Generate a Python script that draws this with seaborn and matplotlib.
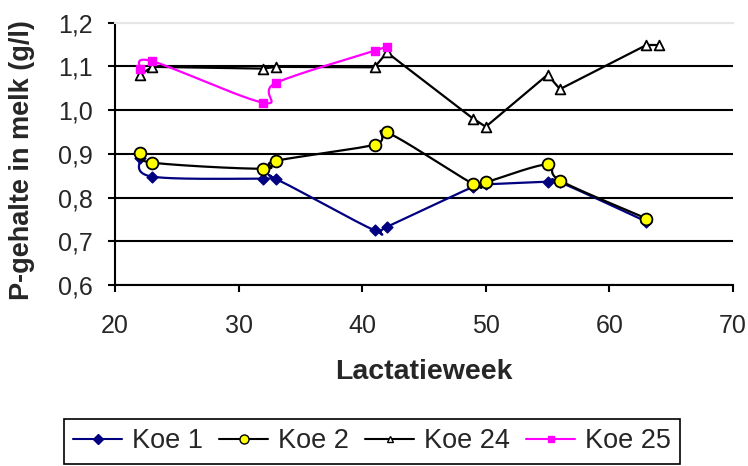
import numpy as np
import pandas as pd
import matplotlib
matplotlib.use("Agg")
import matplotlib.pyplot as plt
from matplotlib.lines import Line2D
import seaborn as sns

# Lactation week and P content in milk (g/l) per cow
weeks_koe1 = [22, 23, 32, 33, 41, 42, 49, 50, 55, 56, 63]
p_koe1 = [0.890, 0.848, 0.843, 0.843, 0.725, 0.733, 0.825, 0.830, 0.836, 0.835, 0.745]

weeks_koe2 = [22, 23, 32, 33, 41, 42, 49, 50, 55, 56, 63]
p_koe2 = [0.903, 0.880, 0.866, 0.884, 0.921, 0.949, 0.831, 0.835, 0.876, 0.839, 0.752]

weeks_koe24 = [22, 23, 32, 33, 41, 42, 49, 50, 55, 56, 63, 64]
p_koe24 = [1.080, 1.099, 1.095, 1.099, 1.098, 1.132, 0.980, 0.962, 1.081, 1.048, 1.149, 1.149]

weeks_koe25 = [22, 23, 32, 33, 41, 42]
p_koe25 = [1.094, 1.112, 1.017, 1.062, 1.136, 1.145]

series_names = ["Koe 1", "Koe 2", "Koe 24", "Koe 25"]
x_ticks = [20, 30, 40, 50, 60, 70]
y_ticks = [0.6, 0.7, 0.8, 0.9, 1.0, 1.1, 1.2]
y_tick_labels = ["0,6", "0,7", "0,8", "0,9", "1,0", "1,1", "1,2"]

sns.set_theme(style="white")
plt.rcParams["font.family"] = ["Liberation Sans", "DejaVu Sans"]

fig = plt.figure(figsize=(7.48, 4.66), dpi=100)
ax = fig.add_axes([115 / 748, 1 - 285 / 466, 618 / 748, (285 - 22.7) / 466])


def smooth(x, y, n=40):
    """Bezier smoothing through the points (Catmull-Rom style), done in screen-like units."""
    sx, sy = 618 / 50, 262 / 0.6
    P = np.column_stack([np.asarray(x, float) * sx, np.asarray(y, float) * sy])
    t = np.linspace(0, 1, n)[:, None]
    out = []
    for i in range(len(P) - 1):
        p0 = P[max(i - 1, 0)]
        p1 = P[i]
        p2 = P[i + 1]
        p3 = P[min(i + 2, len(P) - 1)]
        c1 = p1 + (p2 - p0) / 6
        c2 = p2 - (p3 - p1) / 6
        seg = (1 - t) ** 3 * p1 + 3 * (1 - t) ** 2 * t * c1 + 3 * (1 - t) * t ** 2 * c2 + t ** 3 * p2
        out.append(seg if i == 0 else seg[1:])
    out = np.vstack(out)
    return out[:, 0] / sx, out[:, 1] / sy


styles = {
    "Koe 1": dict(color="#000080", marker="D", mfc="#000080", mec="#000080", ms=5.5, mew=1, lms=5, smooth=True),
    "Koe 2": dict(color="black", marker="o", mfc="#FFFF00", mec="black", ms=8.5, mew=1.3, lms=6.5, smooth=True),
    "Koe 24": dict(color="black", marker="^", mfc="white", mec="black", ms=7, mew=1.3, lms=4.5, smooth=False),
    "Koe 25": dict(color="#FF00FF", marker="s", mfc="#FF00FF", mec="#FF00FF", ms=6, mew=1, lms=4.5, smooth=True),
}
data = {
    "Koe 1": (weeks_koe1, p_koe1),
    "Koe 2": (weeks_koe2, p_koe2),
    "Koe 24": (weeks_koe24, p_koe24),
    "Koe 25": (weeks_koe25, p_koe25),
}

for z, name in enumerate(series_names):
    wx, py = data[name]
    st = styles[name]
    if st["smooth"]:
        cx, cy = smooth(wx, py)
    else:
        cx, cy = wx, py
    curve = pd.DataFrame({"week": cx, "p": cy})
    sns.lineplot(data=curve, x="week", y="p", sort=False, estimator=None,
                 color=st["color"], lw=1.6, ax=ax, zorder=3 + z)
    pts = pd.DataFrame({"week": wx, "p": py})
    sns.scatterplot(data=pts, x="week", y="p", marker=st["marker"], s=st["ms"] ** 2,
                    color=st["mfc"], edgecolor=st["mec"], linewidth=st["mew"],
                    ax=ax, zorder=3.5 + z, legend=False)

ax.set_xlim(20, 70)
ax.set_ylim(0.6, 1.2)
ax.set_xticks(x_ticks)
ax.set_xticklabels([str(v) for v in x_ticks], fontsize=18)
ax.set_yticks(y_ticks)
ax.set_yticklabels(y_tick_labels, fontsize=18)
ax.tick_params(axis="both", direction="out", length=5, width=1.5, color="black",
               bottom=True, left=True)
ax.tick_params(axis="x", pad=16)
ax.tick_params(axis="y", pad=11)

ax.grid(axis="y", color="black", lw=1.5)
ax.grid(axis="x", visible=False)
ax.set_axisbelow(True)
for loc, gl in zip(y_ticks, ax.yaxis.get_gridlines()):
    if loc >= 1.2:
        gl.set_color("#e6e6e6")

for side in ["left", "bottom"]:
    ax.spines[side].set_color("black")
    ax.spines[side].set_linewidth(1.5)
ax.spines["right"].set_visible(False)
ax.spines["top"].set_color("#e6e6e6")
ax.spines["top"].set_linewidth(1.5)

ax.set_xlabel("Lactatieweek", fontsize=20.5, fontweight="bold")
ax.set_ylabel("P-gehalte in melk (g/l)", fontsize=19.5, fontweight="bold")
ax.xaxis.set_label_coords(0.5, -(372 - 285) / 262.3)
ax.xaxis.label.set_va("center")
ax.yaxis.set_label_coords((22 - 115) / 618, (285 - 160) / 262.3)
ax.yaxis.label.set_va("center")
ax.yaxis.label.set_ha("center")

handles = [Line2D([], [], color=styles[n]["color"], lw=1.5, marker=styles[n]["marker"],
                  markerfacecolor=styles[n]["mfc"], markeredgecolor=styles[n]["mec"],
                  markersize=styles[n]["lms"], markeredgewidth=1)
           for n in series_names]
leg = fig.legend(handles, series_names, loc="upper left",
                 bbox_to_anchor=(64 / 748, 1 - 419 / 466), ncol=4, fontsize=19.5,
                 frameon=True, fancybox=False, edgecolor="black", framealpha=1,
                 handlelength=1.8, handletextpad=0.37, columnspacing=0.6,
                 borderpad=0.35, borderaxespad=0)
leg.get_frame().set_linewidth(1.2)

fig.savefig("out.png", dpi=100, facecolor="white")
